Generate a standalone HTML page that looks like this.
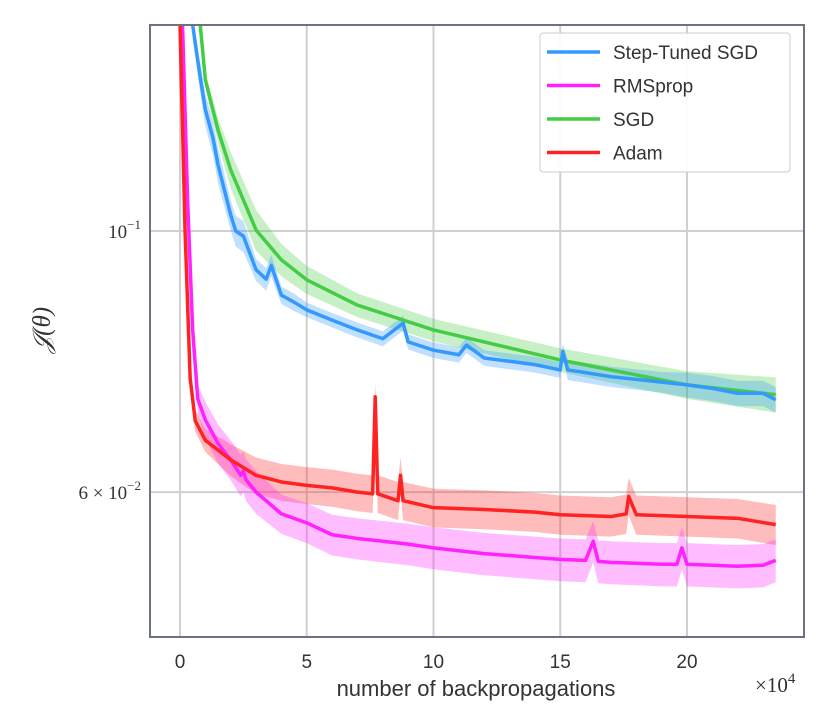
<!DOCTYPE html>
<html><head><meta charset="utf-8"><style>
body{margin:0;background:#fff}
svg{display:block}
text{font-family:"Liberation Sans",sans-serif;fill:#333}
.m{font-family:"Liberation Serif",serif}
</style></head><body>
<svg id="c" width="830" height="726">
<g id="grid"></g>
<g id="bands"></g>
<g id="lines"></g>
<rect x="150" y="25" width="654" height="612" fill="none" stroke="#6b7280" stroke-width="2"/>
<g id="xt"></g>
<g id="yt"></g>
<text x="476" y="696" font-size="22" text-anchor="middle">number of backpropagations</text>
<text class="m" x="755" y="692" font-size="21">×10<tspan font-size="15" dy="-9">4</tspan></text>
<text class="m" transform="translate(50,330) rotate(-90)" font-size="25" font-style="italic" text-anchor="middle">𝒥(θ)</text>
<g>
<rect x="540" y="33" width="250" height="139" fill="#fff" fill-opacity="0.9" stroke="#ccc" rx="3"/>
<g id="leg"></g>
</g>
</svg>
<script>
const xTicks=[0,5,10,15,20];
const yTicks=[0.1,0.06];
const yTickLabels=["10","6 × 10"];
const yTickExp=["−1","−2"];
const seriesNames=["Step-Tuned SGD","RMSprop","SGD","Adam"];
const seriesColors=["#3399ff","#ff22ff","#44cc44","#ff2222"];
const xBlue=[0.5,0.8,1,1.3,1.5,2,2.2,2.5,3,3.4,3.6,4,4.5,5,6,7,8,8.8,9,10,11,11.3,12,13,14,15,15.1,15.3,16,17,18,19,20,21,22,23,23.5];
const yBlue=[0.1496,0.135,0.1268,0.12,0.1138,0.1032,0.1,0.099,0.0927,0.091,0.0935,0.0882,0.087,0.0857,0.084,0.0824,0.081,0.0835,0.0805,0.0792,0.0785,0.08,0.078,0.0775,0.077,0.0762,0.079,0.0762,0.0758,0.0752,0.0748,0.0744,0.074,0.0735,0.0728,0.0728,0.0719];
const bandBlue=[0.004,0.004,0.004,0.004,0.004,0.003,0.003,0.003,0.002,0.002,0.002,0.0015,0.0015,0.0012,0.0012,0.0012,0.0012,0.0012,0.0012,0.0012,0.0012,0.0012,0.0012,0.0012,0.0012,0.0012,0.0012,0.0015,0.0015,0.0015,0.0015,0.0015,0.0018,0.0018,0.0018,0.0018,0.0018];
const xGreen=[0.8,1,1.5,2,3,4,5,7,10,15,20,23.5];
const yGreen=[0.1496,0.1344,0.1218,0.1127,0.1002,0.0945,0.0909,0.0865,0.0824,0.0777,0.074,0.0726];
const bandGreen=[0.002,0.002,0.003,0.004,0.004,0.003,0.0025,0.002,0.0018,0.0018,0.002,0.0025];
const xAdam=[0,0.2,0.4,0.6,1,2,3,4,5,6,7,7.6,7.7,7.8,8,8.6,8.7,8.8,10,12,14,15,17,17.6,17.7,18,20,22,23.5];
const yAdam=[0.1496,0.1,0.075,0.069,0.0664,0.0639,0.062,0.0612,0.0608,0.0605,0.06,0.0598,0.0723,0.0598,0.0596,0.059,0.062,0.059,0.0582,0.058,0.0577,0.0574,0.0572,0.0575,0.0595,0.0574,0.0572,0.057,0.0563];
const bandAdam=[0.001,0.0015,0.0015,0.0015,0.0015,0.002,0.0022,0.0022,0.0022,0.0022,0.0022,0.0022,0.0022,0.0022,0.0022,0.0022,0.0022,0.0022,0.0022,0.0022,0.0022,0.0022,0.0022,0.0022,0.0022,0.0022,0.0022,0.0022,0.0022];
const xRms=[0.1,0.3,0.5,0.7,1,1.5,2,2.4,2.5,2.6,3,4,5,6,7,8,9,10,11,12,13,14,15,16,16.3,16.5,17,18,19,19.6,19.8,20,21,22,23,23.5];
const yRms=[0.1496,0.1062,0.0824,0.072,0.0691,0.066,0.0639,0.062,0.0625,0.0615,0.06,0.0575,0.0565,0.0552,0.0548,0.0545,0.0542,0.0538,0.0535,0.0532,0.053,0.0528,0.0526,0.0525,0.0545,0.0524,0.0523,0.0522,0.0521,0.0521,0.0538,0.0521,0.052,0.0519,0.052,0.0525];
const bandRms=[0.002,0.002,0.002,0.002,0.0025,0.0025,0.0025,0.0025,0.0025,0.0025,0.0025,0.0022,0.0022,0.0022,0.0022,0.0022,0.0022,0.0022,0.0022,0.0022,0.0022,0.0022,0.0022,0.0022,0.0022,0.0022,0.0022,0.0022,0.0022,0.0022,0.0022,0.0022,0.0022,0.0022,0.0022,0.0022];

const NS="http://www.w3.org/2000/svg";
const L=150,R=804,T=25,B=637;
const X=v=>180+v*25.35;
const Y=v=>231-1177*Math.log10(v/0.1);
const cy=v=>Math.max(T,Math.min(B,Y(v)));
function mk(tag,attrs,parent){const e=document.createElementNS(NS,tag);for(const k in attrs)e.setAttribute(k,attrs[k]);parent.appendChild(e);return e;}
const grid=document.getElementById('grid'),xt=document.getElementById('xt'),yt=document.getElementById('yt');
xTicks.forEach(t=>{
  const g=mk('line',{x1:X(t),x2:X(t),y1:T,y2:B,stroke:'#d0d0d0','stroke-width':2},grid);
  
  
  const s=mk('text',{x:X(t),y:668,'font-size':19,'text-anchor':'middle'},xt);s.textContent=t;
  
  
});
yTicks.forEach((t,i)=>{
  const g=mk('line',{x1:L,x2:R,y1:Y(t),y2:Y(t),stroke:'#d0d0d0','stroke-width':2},grid);
  
  
  const s=mk('text',{x:141,y:Y(t)+7,'font-size':19,'text-anchor':'end','class':'m'},yt);
  
  
  s.innerHTML=yTickLabels[i]+'<tspan font-size="13" dy="-9">'+yTickExp[i]+'</tspan>';
});
const series=[[xGreen,yGreen,bandGreen,2],[xBlue,yBlue,bandBlue,0],[xAdam,yAdam,bandAdam,3],[xRms,yRms,bandRms,1]];
const bands=document.getElementById('bands'),lines=document.getElementById('lines');
series.forEach(([xs,ys,bs,ci])=>{
  let up=xs.map((x,i)=>X(x)+','+cy(ys[i]+bs[i])),dn=xs.map((x,i)=>X(x)+','+cy(ys[i]-bs[i])).reverse();
  const p=mk('polygon',{points:up.concat(dn).join(' '),fill:seriesColors[ci],'fill-opacity':0.3},bands);
  
  
});
[[xGreen,yGreen,2],[xBlue,yBlue,0],[xRms,yRms,1],[xAdam,yAdam,3]].forEach(([xs,ys,ci])=>{
  const p=mk('polyline',{points:xs.map((x,i)=>X(x)+','+cy(ys[i])).join(' '),fill:'none',stroke:seriesColors[ci],'stroke-width':3.5,'stroke-linejoin':'round'},lines);
  
  
});
const leg=document.getElementById('leg');
seriesNames.forEach((n,i)=>{
  const y=52+i*33.5;
  const l=mk('line',{x1:547,x2:600,y1:y,y2:y,stroke:seriesColors[i],'stroke-width':3.5},leg);
  
  
  const t=mk('text',{x:613,y:y+7,'font-size':19},leg);t.textContent=n;
  
  
});
</script>
</body></html>
